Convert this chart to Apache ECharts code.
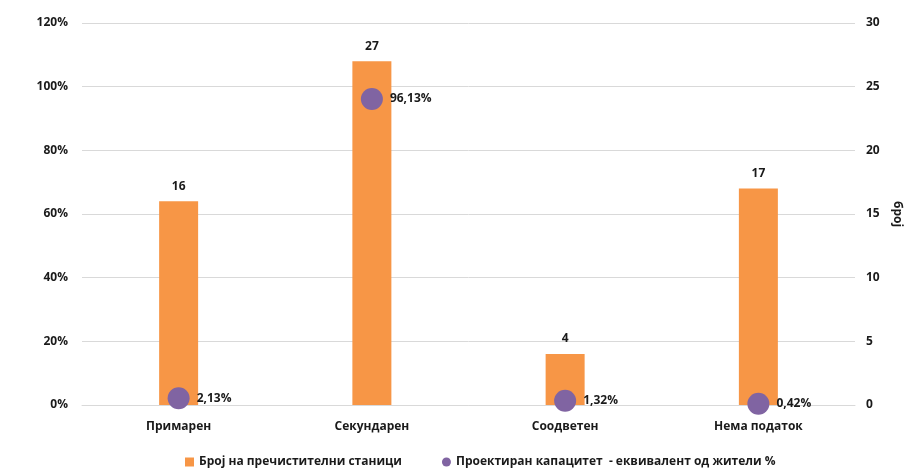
<!DOCTYPE html>
<html><head><meta charset="utf-8">
<script src="https://cdn.jsdelivr.net/npm/echarts@6/dist/echarts.min.js"></script>
<style>html,body{margin:0;padding:0;background:#fff}#c{width:918px;height:468px}</style>
</head><body><div id="c"></div>
<script>
const categories = ['Примарен', 'Секундарен', 'Соодветен', 'Нема податок'];
const stationCounts = [16, 27, 4, 17];
const capacityPct = [2.13, 96.13, 1.32, 0.42];
const seriesNames = ['Број на пречистителни станици', 'Проектиран капацитет  - еквивалент од жители %'];
const leftTicks = {min: 0, max: 120, interval: 20};
const rightTicks = {min: 0, max: 30, interval: 5};

const FONT = '"Open Sans", "Noto Sans", sans-serif';
const chart = echarts.init(document.getElementById('c'));
chart.setOption({
  animation: false,
  textStyle: {fontFamily: FONT},
  grid: {left: 82, right: 63, top: 23, bottom: 63, containLabel: false},
  legend: {
    top: 451, left: 180, itemWidth: 9, itemHeight: 9, itemGap: 40,
    textStyle: {fontFamily: FONT, fontWeight: 'bold', fontSize: 12, color: '#1a1a1a'},
    data: [{name: seriesNames[0], icon: 'rect'}, {name: seriesNames[1], icon: 'circle'}]
  },
  xAxis: {
    type: 'category', data: categories,
    axisLine: {lineStyle: {color: '#d9d9d9'}}, axisTick: {show: false},
    axisLabel: {fontFamily: FONT, fontWeight: 'bold', fontSize: 12, color: '#1a1a1a', margin: 16}
  },
  yAxis: [{
    type: 'value', min: leftTicks.min, max: leftTicks.max, interval: leftTicks.interval,
    axisLine: {show: false}, axisTick: {show: false},
    splitLine: {lineStyle: {color: '#d9d9d9'}},
    axisLabel: {formatter: '{value}%', fontFamily: FONT, fontWeight: 'bold', fontSize: 12, color: '#1a1a1a', margin: 14}
  }, {
    type: 'value', min: rightTicks.min, max: rightTicks.max, interval: rightTicks.interval,
    name: 'број', nameLocation: 'middle', nameRotate: -90, nameGap: 36,
    nameTextStyle: {fontFamily: FONT, fontWeight: 'bold', fontSize: 12, color: '#1a1a1a'},
    axisLine: {show: false}, axisTick: {show: false}, splitLine: {show: false},
    axisLabel: {fontFamily: FONT, fontWeight: 'bold', fontSize: 12, color: '#1a1a1a', margin: 11}
  }],
  series: [{
    name: seriesNames[0], type: 'bar', yAxisIndex: 1, data: stationCounts,
    barWidth: 39, itemStyle: {color: '#F79646'},
    label: {show: true, position: 'top', distance: 9, fontFamily: FONT, fontWeight: 'bold', fontSize: 12, color: '#1a1a1a'}
  }, {
    name: seriesNames[1], type: 'scatter', yAxisIndex: 0, data: capacityPct,
    symbol: 'circle', symbolSize: 22, itemStyle: {color: '#8064A2', opacity: 1},
    label: {show: true, position: 'right', distance: 7,
      formatter: p => p.value.toFixed(2).replace('.', ',') + '%',
      fontFamily: FONT, fontWeight: 'bold', fontSize: 12, color: '#1a1a1a'}
  }]
});
</script></body></html>
